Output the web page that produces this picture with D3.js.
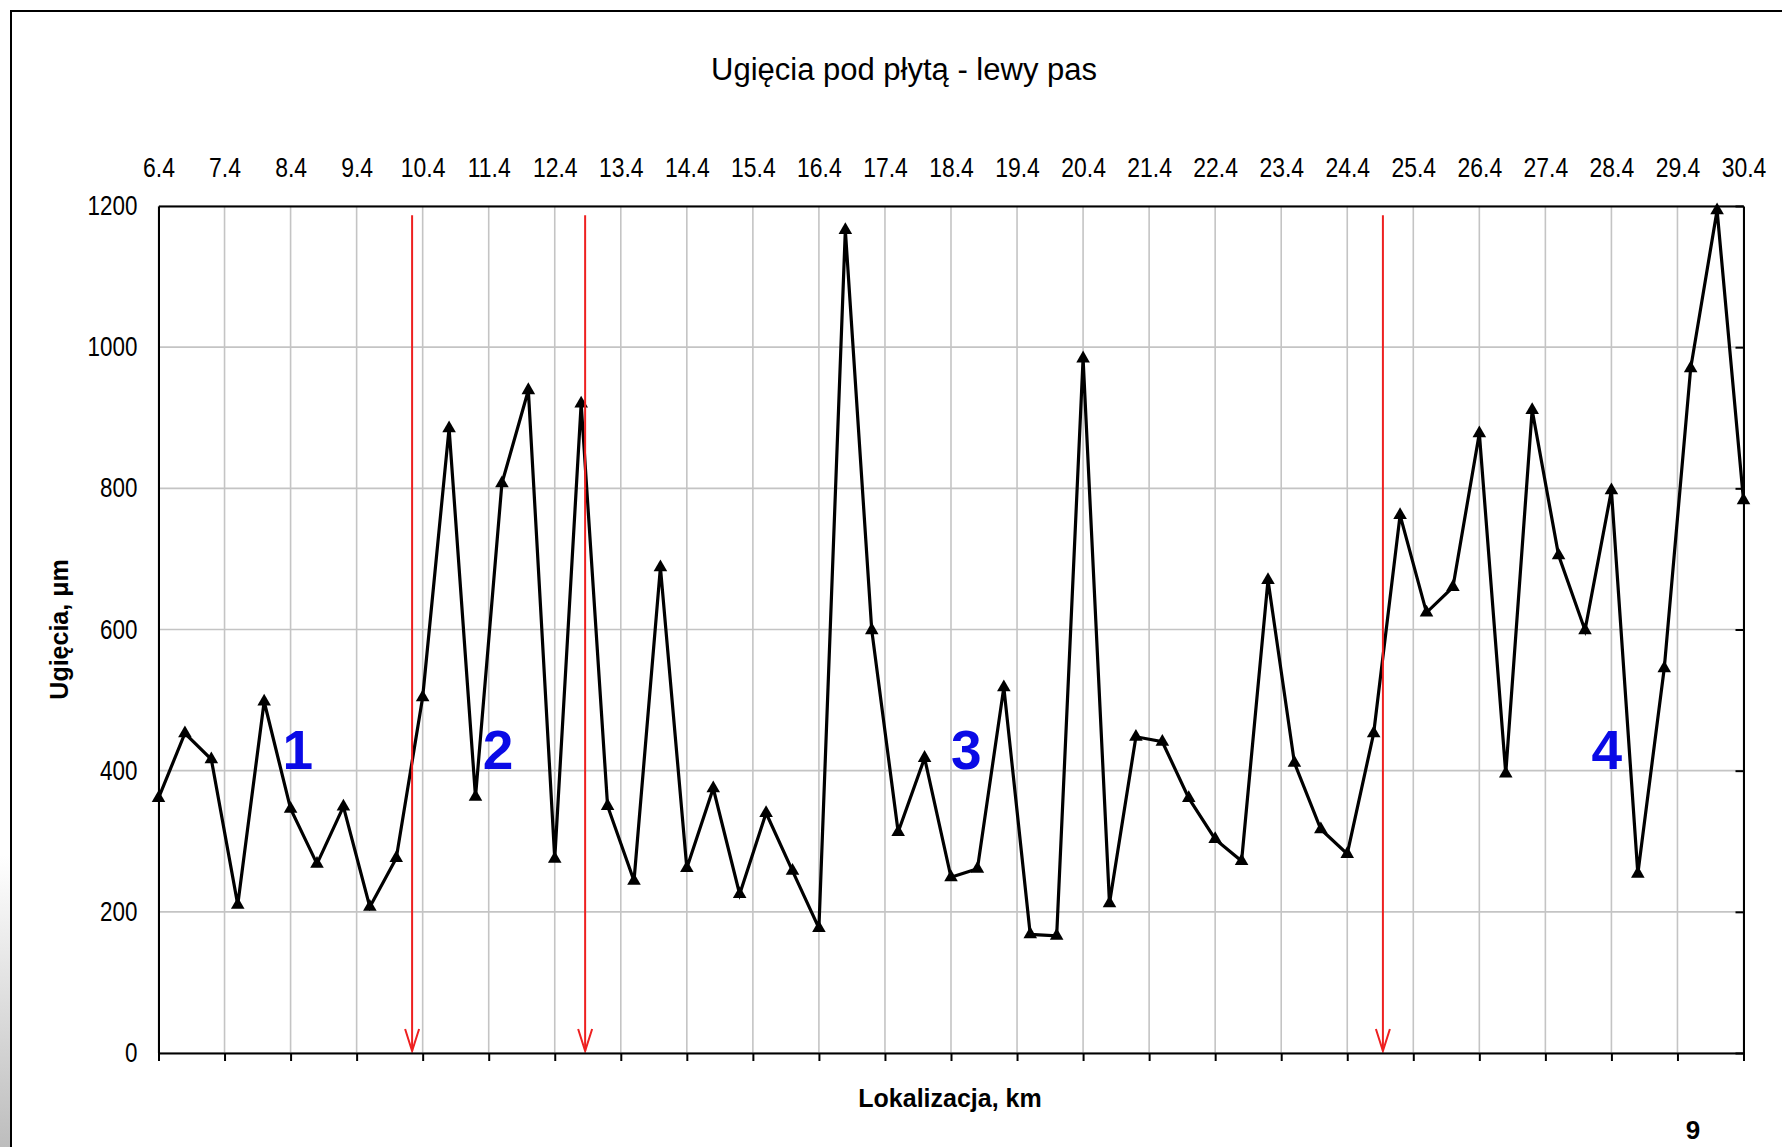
<!DOCTYPE html>
<html>
<head>
<meta charset="utf-8">
<script src="https://cdnjs.cloudflare.com/ajax/libs/d3/7.8.5/d3.min.js"></script>
<style>
  body {margin: 0; background: #fff; overflow: hidden;}
  .chart text {font-family: Arial, "Liberation Sans", sans-serif; fill: #000;}
  .tickLbl text {font-size: 27px;}
</style>
</head>
<body>
<div class="chart"></div>
<script>
// Ugięcia pod płytą - lewy pas : deflection vs location (km)

// data ==========================================================
var kmPoints = [6.4, 6.8, 7.2, 7.6, 8.0, 8.4, 8.8, 9.2, 9.6, 10.0,
  10.4, 10.8, 11.2, 11.6, 12.0, 12.4, 12.8, 13.2, 13.6, 14.0,
  14.4, 14.8, 15.2, 15.6, 16.0, 16.4, 16.8, 17.2, 17.6, 18.0,
  18.4, 18.8, 19.2, 19.6, 20.0, 20.4, 20.8, 21.2, 21.6, 22.0,
  22.4, 22.8, 23.2, 23.6, 24.0, 24.4, 24.8, 25.2, 25.6, 26.0,
  26.4, 26.8, 27.2, 27.6, 28.0, 28.4, 28.8, 29.2, 29.6, 30.0, 30.4];
var deflections = [361, 453, 416, 210, 498, 346, 268, 349, 207, 276,
  504, 885, 363, 807, 939, 275, 920, 350, 244, 688,
  262, 375, 225, 340, 258, 177, 1166, 599, 313, 418,
  249, 261, 518, 168, 166, 984, 212, 448, 441, 361,
  303, 272, 670, 411, 317, 282, 453, 762, 624, 660,
  878, 396, 911, 705, 599, 797, 254, 545, 970, 1194, 783];
var topTicks = [6.4, 7.4, 8.4, 9.4, 10.4, 11.4, 12.4, 13.4, 14.4, 15.4, 16.4, 17.4, 18.4,
  19.4, 20.4, 21.4, 22.4, 23.4, 24.4, 25.4, 26.4, 27.4, 28.4, 29.4, 30.4];
var yTicks = [0, 200, 400, 600, 800, 1000, 1200];
// section boundaries (red arrows) and section numbers
var boundaryKm = [10.24, 12.86, 24.94];
var arrowTop = 1187;
var sectionNames = ["1", "2", "3", "4"];
var sectionKm = [8.51, 11.54, 18.63, 28.33];
var sectionLevel = 402;

var titleText = "Ugięcia pod płytą - lewy pas";
var xTitle = "Lokalizacja, km";
var yTitle = "Ugięcia, μm";
var pageNo = "9";

// svg wrapper =====================================================
var svgWidth = 1782, svgHeight = 1147;
var plot = {left: 158.5, right: 1743.5, top: 206, bottom: 1053};

var svg = d3.select(".chart").append("svg").attr("width", svgWidth).attr("height", svgHeight);

// frame + shadow at left edge
var grad = svg.append("defs").append("linearGradient").attr("id", "shade")
  .attr("x1", 0).attr("y1", 0).attr("x2", 0).attr("y2", 1);
grad.append("stop").attr("offset", "0%").attr("stop-color", "#ffffff");
grad.append("stop").attr("offset", "100%").attr("stop-color", "#bdbdbd");
svg.append("rect").attr("x", 0).attr("y", 855).attr("width", 10).attr("height", 292).attr("fill", "url(#shade)");
svg.append("path").attr("d", "M11,1147V11H1782").attr("fill", "none").attr("stroke", "#000").attr("stroke-width", 2);

// scales ==========================================================
var x = d3.scaleLinear().domain([6.4, 30.4]).range([plot.left, plot.right]);
var y = d3.scaleLinear().domain([0, 1200]).range([plot.bottom, plot.top]);

// gridlines
var grid = svg.append("g").attr("stroke", "#c4c4c4").attr("stroke-width", 1.6);
grid.selectAll(".vg").data(topTicks).enter().append("line")
  .attr("x1", d => x(d)).attr("x2", d => x(d)).attr("y1", plot.top).attr("y2", plot.bottom);
grid.selectAll(".hg").data(yTicks).enter().append("line")
  .attr("x1", plot.left).attr("x2", plot.right).attr("y1", d => y(d)).attr("y2", d => y(d));

// data line + triangle markers ====================================
var pts = kmPoints.map((k, i) => ({km: k, val: deflections[i]}));
var line = d3.line().x(d => x(d.km)).y(d => y(d.val));
svg.append("path").datum(pts).attr("d", line).attr("fill", "none")
  .attr("stroke", "#000").attr("stroke-width", 3.2).attr("stroke-linejoin", "miter");
svg.selectAll(".mk").data(pts).enter().append("path")
  .attr("d", d3.symbol().type(d3.symbolTriangle).size(80))
  .attr("transform", d => `translate(${x(d.km)},${y(d.val)})`)
  .attr("fill", "#000");

// red arrows ======================================================
var arrows = svg.append("g").attr("stroke", "#ee2020").attr("stroke-width", 2).attr("fill", "none");
arrows.selectAll(".ar").data(boundaryKm).enter().append("line")
  .attr("x1", d => x(d)).attr("x2", d => x(d)).attr("y1", y(arrowTop)).attr("y2", y(0) - 2);
arrows.selectAll(".ah").data(boundaryKm).enter().append("path")
  .attr("d", d => `M${x(d) - 7},${y(0) - 24}L${x(d)},${y(0) - 2}L${x(d) + 7},${y(0) - 24}`);

// axes ============================================================
var axStyle = function(g) {
  g.select(".domain").attr("stroke", "#000").attr("stroke-width", 2);
  g.selectAll(".tick line").attr("stroke", "#000").attr("stroke-width", 2);
};
svg.append("g").attr("class", "tickLbl").attr("transform", `translate(0,${plot.top})`)
  .call(d3.axisTop(x).tickValues(topTicks).tickFormat(d3.format(".1f")).tickSize(0).tickPadding(29))
  .call(axStyle)
  .selectAll("text").attr("transform", "scale(0.85,1)");
svg.append("g").attr("transform", `translate(0,${plot.bottom})`)
  .call(d3.axisBottom(x).tickValues(topTicks).tickFormat("").tickSizeInner(8).tickSizeOuter(0))
  .call(axStyle);
svg.append("g").attr("class", "tickLbl").attr("transform", `translate(${plot.left},0)`)
  .call(d3.axisLeft(y).tickValues(yTicks).tickFormat(d3.format("d")).tickSize(0).tickPadding(21))
  .call(axStyle)
  .selectAll("text").attr("x", -25.5).attr("transform", "scale(0.83,1)");
svg.append("g").attr("transform", `translate(${plot.right},0)`)
  .call(d3.axisRight(y).tickValues(yTicks).tickFormat("").tickSizeInner(-8).tickSizeOuter(0))
  .call(axStyle);

// section numbers =================================================
svg.selectAll(".sec").data(sectionNames).enter().append("text")
  .attr("x", (d, i) => x(sectionKm[i])).attr("y", y(sectionLevel))
  .attr("text-anchor", "middle").attr("font-size", "55px").attr("font-weight", "bold")
  .style("fill", "#0a0ae6").text(d => d);

// titles ==========================================================
svg.append("text").attr("x", 904).attr("y", 80).attr("text-anchor", "middle")
  .attr("font-size", "31px").text(titleText);
svg.append("text").attr("x", (plot.left + plot.right) / 2 - 1).attr("y", 1107).attr("text-anchor", "middle")
  .attr("font-size", "25px").attr("font-weight", "bold").text(xTitle);
svg.append("text").attr("transform", `translate(68,${(plot.top + plot.bottom) / 2}) rotate(-90)`)
  .attr("text-anchor", "middle").attr("font-size", "25px").attr("font-weight", "bold").text(yTitle);
svg.append("text").attr("x", 1693).attr("y", 1139).attr("text-anchor", "middle")
  .attr("font-size", "26px").attr("font-weight", "bold").text(pageNo);
</script>
</body>
</html>
